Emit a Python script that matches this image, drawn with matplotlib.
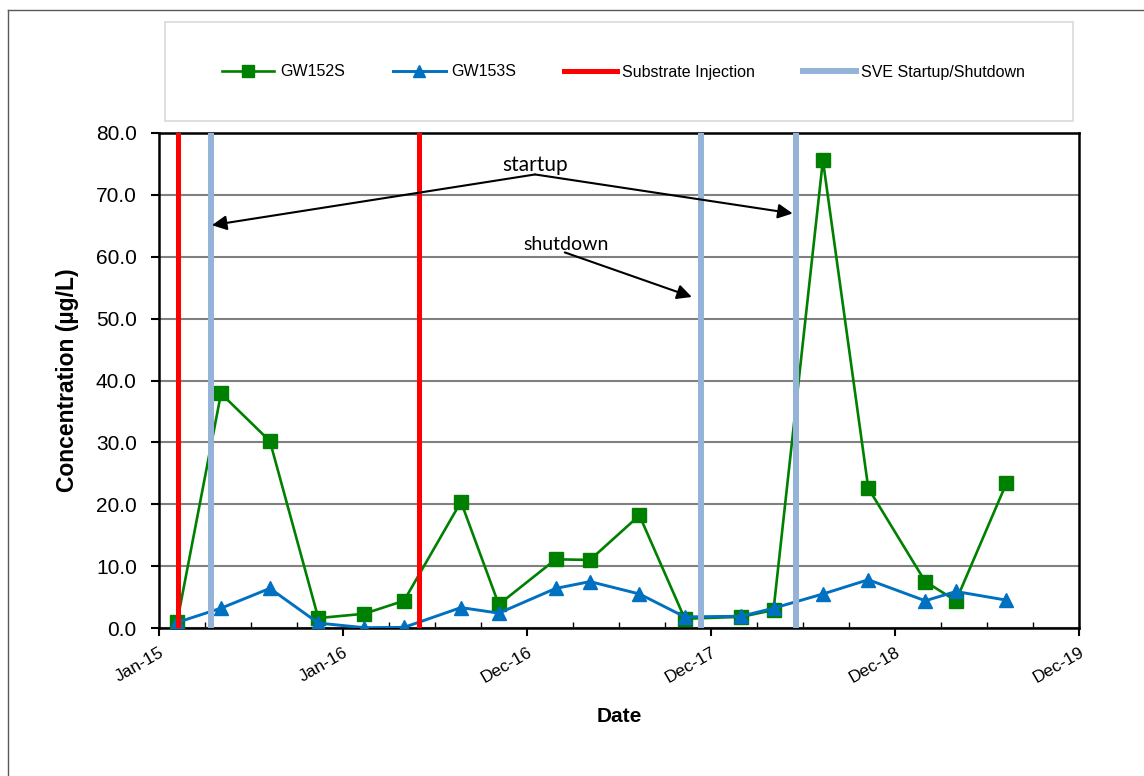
import matplotlib
matplotlib.use("Agg")
import matplotlib.pyplot as plt
from matplotlib.lines import Line2D
from matplotlib.patches import Rectangle
import datetime as dt

# ---------------- data ----------------
sample_dates = ["2015-02-06", "2015-05-04", "2015-08-09", "2015-11-13", "2016-02-12",
                "2016-05-01", "2016-08-22", "2016-11-05", "2017-02-26", "2017-05-05",
                "2017-08-11", "2017-11-09", "2018-03-01", "2018-05-04", "2018-08-10",
                "2018-11-08", "2019-03-01", "2019-05-01", "2019-08-09"]
gw152s = [1.0, 37.9, 30.2, 1.6, 2.3, 4.4, 20.4, 3.8, 11.1, 11.0, 18.2, 1.5,
          1.8, 2.9, 75.6, 22.6, 7.5, 4.4, 23.4]
gw153s = [0.9, 3.2, 6.4, 0.8, 0.05, 0.1, 3.3, 2.4, 6.4, 7.5, 5.5, 1.8,
          1.9, 3.2, 5.5, 7.8, 4.4, 5.9, 4.5]
injection_dates = ["2015-02-08", "2016-05-31"]
sve_dates = ["2015-04-14", "2017-12-11", "2018-06-18"]
series_names = ["GW152S", "GW153S", "Substrate Injection", "SVE Startup/Shutdown"]
y_ticks = [0, 10, 20, 30, 40, 50, 60, 70, 80]

# annotation anchors (date, value)
startup_text = ("2017-01-16", 74.8)
startup_origin = ("2017-01-16", 73.3)
startup_tips = [("2015-04-16", 65.1), ("2018-06-11", 67.0)]
shutdown_text = ("2017-03-18", 62.0)
shutdown_origin = ("2017-03-16", 60.7)
shutdown_tip = ("2017-11-23", 53.5)

def d(s):
    return dt.datetime.strptime(s, "%Y-%m-%d")

x = [d(s) for s in sample_dates]

# ---------------- figure ----------------
W, H = 1144, 776
fig = plt.figure(figsize=(W / 100, H / 100), dpi=100)
plt.rcParams['font.family'] = ['Liberation Sans', 'DejaVu Sans']

# outer border (top & left)
fig.add_artist(Line2D([8 / W, 1], [1 - 10 / H, 1 - 10 / H], transform=fig.transFigure,
                      color="#595959", lw=1.0))
fig.add_artist(Line2D([8 / W, 8 / W], [0, 1 - 10 / H], transform=fig.transFigure,
                      color="#595959", lw=1.0))

ax = fig.add_axes([159 / W, (H - 628) / H, 920 / W, 495 / H])

green = "#008000"
blue = "#0070C0"
red = "#FF0000"
sve = "#95B3D7"

ax.plot(x, gw152s, color=green, lw=1.9, marker="s", ms=9.5, mec=green, mfc=green,
        zorder=3, label=series_names[0])
ax.plot(x, gw153s, color=blue, lw=2.1, marker="^", ms=10, mec=blue, mfc=blue,
        zorder=4, label=series_names[1])
for s in injection_dates:
    ax.axvline(d(s), color=red, lw=3.6, zorder=5)
for s in sve_dates:
    ax.axvline(d(s), color=sve, lw=4.3, zorder=5)

start = dt.datetime(2015, 1, 1)
end = start + dt.timedelta(days=1825)
ax.set_xlim(start, end)
ax.set_ylim(0, 80)

major = [start + dt.timedelta(days=365 * k) for k in range(6)]
minor = [start + dt.timedelta(days=365 * k / 4.0) for k in range(21)]
ax.set_xticks(major)
ax.set_xticks(minor, minor=True)
ax.set_xticklabels([m.strftime("%b-%y") for m in major], rotation=30, ha="right",
                   rotation_mode="anchor", fontsize=12.5)
ax.tick_params(axis="x", which="major", direction="out", length=6, width=1.5, pad=6)
ax.tick_params(axis="x", which="minor", direction="in", length=4, width=1.0)

ax.set_yticks(y_ticks)
ax.set_yticklabels([f"{v:.1f}" for v in y_ticks], fontsize=15)
ax.tick_params(axis="y", which="major", direction="out", length=6, width=1.5, pad=10, colors="black")
ax.grid(axis="y", color="#808080", lw=1.5, zorder=0)
ax.set_axisbelow(True)
for sp in ax.spines.values():
    sp.set_linewidth(1.8)
    sp.set_color("black")

ax.set_xlabel("Date", fontsize=15, fontweight="bold", labelpad=15)
ax.set_ylabel("Concentration (µg/L)", fontsize=16.5, fontweight="bold", labelpad=12)

# annotations
afont = ["Lato", "DejaVu Sans"]
ax.text(d(startup_text[0]), startup_text[1], "startup", ha="center", va="center",
        fontsize=15, family=afont, zorder=6)
ax.text(d(shutdown_text[0]), shutdown_text[1], "shutdown", ha="center", va="center",
        fontsize=14, family=afont, zorder=6)
aprops = dict(arrowstyle="-|>", color="black", lw=1.5, mutation_scale=22,
              shrinkA=0, shrinkB=0)
for tip in startup_tips:
    ax.annotate("", xy=(d(tip[0]), tip[1]), xytext=(d(startup_origin[0]), startup_origin[1]),
                arrowprops=aprops, zorder=6)
ax.annotate("", xy=(d(shutdown_tip[0]), shutdown_tip[1]),
            xytext=(d(shutdown_origin[0]), shutdown_origin[1]), arrowprops=aprops, zorder=6)

# legend
fig.add_artist(Rectangle((165 / W, 1 - 121 / H), (1073 - 165) / W, 99 / H,
                         transform=fig.transFigure, fill=False, edgecolor="#D9D9D9", lw=1.2))
handles = [
    Line2D([], [], color=green, lw=1.9, marker="s", ms=8, mec=green, mfc=green),
    Line2D([], [], color=blue, lw=2.1, marker="^", ms=8, mec=blue, mfc=blue),
    Line2D([], [], color=red, lw=3.6),
    Line2D([], [], color=sve, lw=4.3),
]
fig.legend(handles, series_names, loc="center", bbox_to_anchor=(623.5 / W, 1 - 72 / H),
           ncol=4, frameon=False, fontsize=11.5, handlelength=3.3, handletextpad=0.35,
           columnspacing=3.0, numpoints=1)

fig.savefig("out.png", dpi=100)
